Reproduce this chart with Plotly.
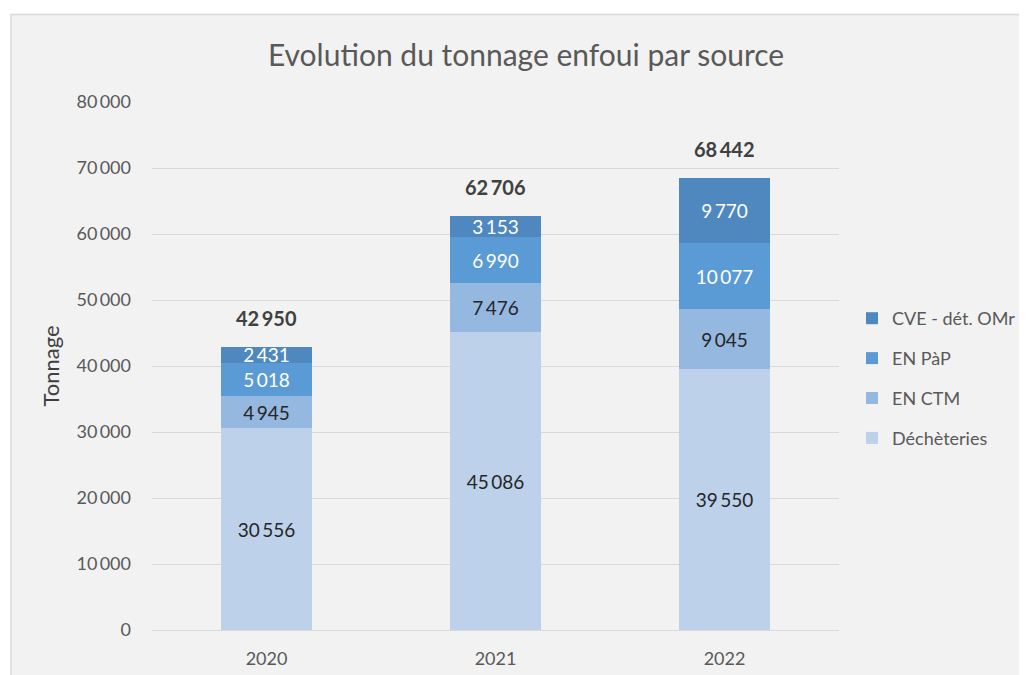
import plotly.graph_objects as go

years = ["2020", "2021", "2022"]
dechetteries = [30556, 45086, 39550]
en_ctm = [4945, 7476, 9045]
en_pap = [5018, 6990, 10077]
cve = [2431, 3153, 9770]
totals = [42950, 62706, 68442]
y_ticks = [0, 10000, 20000, 30000, 40000, 50000, 60000, 70000, 80000]

series = [
    ("Déchèteries", dechetteries, "#bdd1ea", "#262626"),
    ("EN CTM", en_ctm, "#95b8e0", "#262626"),
    ("EN PàP", en_pap, "#5b9bd5", "#ffffff"),
    ("CVE - dét. OMr", cve, "#4f88bf", "#ffffff"),
]

FONT = "Lato, Carlito, sans-serif"

def fmt(v):
    return f"{v:,}".replace(",", "\u2009")

OFF = 8  # page body margin
W, H = 1027 - OFF, 675 - OFF
L, T = 152 - OFF, 102 - OFF
R, B = W - (839 - OFF), H - (630 - OFF)
pw, ph = W - L - R, H - T - B

def px(x):  # reference pixel x -> paper
    return (x - OFF - L) / pw

def py(y):  # reference pixel y -> paper
    return (630 - y) / ph

fig = go.Figure()
for i, (name, vals, col, tcol) in enumerate(series):
    fig.add_trace(go.Bar(
        x=years, y=vals, name=name, marker_color=col, marker_line_width=0,
        text=[fmt(v) for v in vals], textposition="inside", insidetextanchor="middle",
        textangle=0, constraintext="none",
        textfont=dict(color=tcol, size=19, family=FONT),
        legendgroup=f"g{i}", legendrank=1000 - 10 * i, hoverinfo="skip",
    ))

for i, tot in enumerate(totals):
    fig.add_annotation(x=i, y=tot, xref="x", yref="y", text=f"<b>{fmt(tot)}</b>",
                       showarrow=False, yanchor="bottom", yshift=15,
                       font=dict(size=20, color="#404040", family=FONT))

fig.add_shape(type="rect", xref="paper", yref="paper", layer="below",
              x0=px(11), x1=px(1050), y0=py(700), y1=py(14.5),
              fillcolor="#f2f2f2", line=dict(color="#d9d9d9", width=1.5))

fig.update_layout(
    width=W, height=H,
    margin=dict(l=L, r=R, t=T, b=B, pad=0, autoexpand=False),
    paper_bgcolor="#ffffff", plot_bgcolor="rgba(0,0,0,0)",
    barmode="stack", bargap=0.6,
    font=dict(family=FONT, color="#595959", size=18),
    title=dict(text="Evolution du tonnage enfoui par source", xref="container",
               x=(526 - OFF) / W, xanchor="center", yref="container",
               y=1 - (55 - OFF) / H, yanchor="middle",
               font=dict(size=30, color="#595959")),
    uniformtext=dict(minsize=16, mode="show"),
    showlegend=True,
    legend=dict(x=px(852), xanchor="left", y=py(300), yanchor="top",
                traceorder="grouped", tracegroupgap=13.5, bgcolor="rgba(0,0,0,0)",
                font=dict(size=18, color="#595959"), itemwidth=30),
    xaxis=dict(type="category", range=[-0.5, 2.5], showgrid=False, showline=False, ticks="",
               tickfont=dict(size=18, color="#595959"), ticklabelstandoff=16),
    yaxis=dict(range=[0, 80000], tickvals=y_ticks, ticktext=[fmt(v) for v in y_ticks],
               showgrid=True, gridcolor="#d9d9d9", gridwidth=1.3, zeroline=True,
               zerolinecolor="#d9d9d9", zerolinewidth=1.3, showline=False, ticks="",
               tickfont=dict(size=18, color="#595959"), ticklabelstandoff=20,
               title=dict(text="Tonnage", font=dict(size=22, color="#404040"), standoff=10)),
)

fig.write_html("out.html")
